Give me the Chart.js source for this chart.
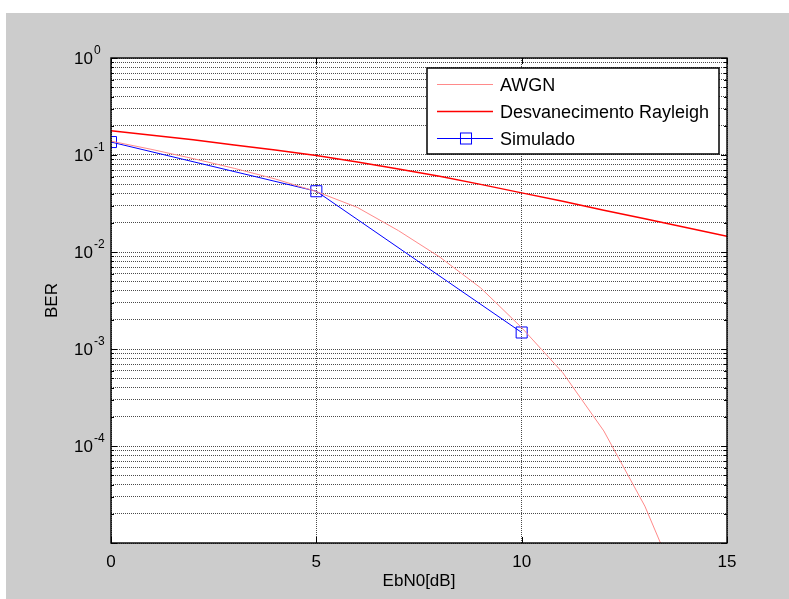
<!DOCTYPE html>
<html>
<head>
<meta charset="utf-8">
<script src="https://cdn.jsdelivr.net/npm/chart.js@4.4.1/dist/chart.umd.min.js"></script>
<style>
  html, body { margin: 0; padding: 0; background: #fff; }
  canvas { display: block; }
</style>
</head>
<body>
<canvas id="ber" width="789" height="599"></canvas>
<script>
// values
const ebn0 = [0, 1, 2, 3, 4, 5, 6, 7, 8, 9, 10, 11, 12, 13, 14, 15];
const berAwgn = [0.139, 0.114, 0.0918, 0.0729, 0.0566, 0.0420, 0.0288, 0.0166, 0.0089, 0.00427,
                 0.00166, 5.7e-4, 1.43e-4, 2.4e-5, 2.4e-6, 1.6e-7];
const berRayleigh = [0.178, 0.160, 0.1435, 0.127, 0.1127, 0.0989, 0.0845, 0.0716, 0.0603, 0.0498,
                     0.0407, 0.0333, 0.0270, 0.0220, 0.0179, 0.0145];
const ebn0Sim = [0, 5, 10];
const berSim = [0.136, 0.0423, 0.00148];

const xTicks = [0, 5, 10, 15];
const yDecades = [1e-5, 1e-4, 1e-3, 1e-2, 1e-1, 1];
const yExponents = ['', '-4', '-3', '-2', '-1', '0']; // 10^-5 is not labelled

const FONT = '"Liberation Sans", Arial, Helvetica, sans-serif';

// all grid positions: 1..9 times each decade
const yGrid = [];
yDecades.forEach((d, i) => {
  if (i === yDecades.length - 1) { yGrid.push(d); return; }
  for (let m = 1; m < 10; m++) yGrid.push(+(m * d).toPrecision(3));
});

const toXY = (xs, ys) => xs.map((x, i) => ({ x: x, y: ys[i] }));

const matlabAxes = {
  id: 'matlabAxes',
  beforeDraw(chart) {
    const { ctx, chartArea: a } = chart;
    ctx.save();
    ctx.fillStyle = '#ffffff';
    ctx.fillRect(0, 0, chart.width, chart.height);
    ctx.fillStyle = '#cccccc';
    ctx.fillRect(6, 13, chart.width - 6, chart.height - 13);
    ctx.fillStyle = '#ffffff';
    ctx.fillRect(a.left, a.top, a.right - a.left, a.bottom - a.top);
    ctx.restore();
  },
  afterDraw(chart) {
    const { ctx, chartArea: a } = chart;
    const xs = chart.scales.x, ys = chart.scales.y;
    ctx.save();

    // inner tick marks
    ctx.strokeStyle = '#000';
    ctx.lineWidth = 1;
    ctx.beginPath();
    yGrid.forEach(v => {
      const py = Math.round(ys.getPixelForValue(v)) + 0.5;
      const len = yDecades.includes(v) ? 6 : 3;
      ctx.moveTo(a.left, py); ctx.lineTo(a.left + len, py);
      ctx.moveTo(a.right, py); ctx.lineTo(a.right - len, py);
    });
    xTicks.forEach(v => {
      const px = Math.round(xs.getPixelForValue(v)) + 0.5;
      ctx.moveTo(px, a.bottom); ctx.lineTo(px, a.bottom - 6);
      ctx.moveTo(px, a.top); ctx.lineTo(px, a.top + 6);
    });
    ctx.stroke();

    // axes box
    ctx.lineWidth = 1.4;
    ctx.strokeRect(a.left, a.top, a.right - a.left, a.bottom - a.top);

    // tick labels
    ctx.fillStyle = '#000';
    ctx.textBaseline = 'middle';
    yDecades.forEach((v, i) => {
      if (!yExponents[i]) return;
      const py = ys.getPixelForValue(v);
      ctx.font = '17px ' + FONT;
      ctx.textAlign = 'right';
      ctx.fillText('10', a.left - 18, py + 1);
      ctx.font = '12px ' + FONT;
      ctx.textAlign = 'left';
      ctx.fillText(yExponents[i], a.left - 17, py - 7);
    });
    ctx.font = '17px ' + FONT;
    ctx.textAlign = 'center';
    xTicks.forEach(v => {
      ctx.fillText(String(v), xs.getPixelForValue(v), a.bottom + 19);
    });

    // axis titles
    ctx.fillText('EbN0[dB]', (a.left + a.right) / 2, a.bottom + 38);
    ctx.save();
    ctx.translate(a.left - 59, (a.top + a.bottom) / 2);
    ctx.rotate(-Math.PI / 2);
    ctx.fillText('BER', 0, 0);
    ctx.restore();

    // legend box, top right inside the axes
    const lx = 427, ly = 68, lw = 292, lh = 86;
    ctx.fillStyle = '#fff';
    ctx.fillRect(lx, ly, lw, lh);
    ctx.strokeStyle = '#000';
    ctx.lineWidth = 1.5;
    ctx.strokeRect(lx, ly, lw, lh);
    ctx.font = '18px ' + FONT;
    ctx.textAlign = 'left';
    chart.data.datasets.forEach((ds, i) => {
      const ry = ly + 16.5 + i * 27;
      ctx.strokeStyle = ds.borderColor;
      ctx.lineWidth = ds.borderWidth;
      ctx.beginPath();
      ctx.moveTo(lx + 10, ry); ctx.lineTo(lx + 66, ry);
      ctx.stroke();
      if (ds.pointRadius > 0) {
        const s = ds.pointRadius * Math.SQRT1_2;
        ctx.lineWidth = 1;
        ctx.strokeRect(lx + 39 - s, ry - s, 2 * s, 2 * s);
      }
      ctx.fillStyle = '#000';
      ctx.fillText(ds.label, lx + 73, ry + 2);
    });
    ctx.restore();
  }
};

new Chart(document.getElementById('ber'), {
  type: 'line',
  data: {
    datasets: [
      {
        label: 'AWGN',
        data: toXY(ebn0, berAwgn),
        borderColor: '#ff8a8a',
        borderWidth: 1,
        pointRadius: 0,
        tension: 0
      },
      {
        label: 'Desvanecimento Rayleigh',
        data: toXY(ebn0, berRayleigh),
        borderColor: '#ff0000',
        borderWidth: 1.5,
        pointRadius: 0,
        tension: 0
      },
      {
        label: 'Simulado',
        data: toXY(ebn0Sim, berSim),
        borderColor: '#0000ff',
        backgroundColor: 'rgba(0,0,0,0)',
        borderWidth: 1,
        pointStyle: 'rect',
        pointRadius: 7.8,
        pointBorderWidth: 1,
        tension: 0
      }
    ]
  },
  options: {
    responsive: false,
    animation: false,
    layout: { padding: { left: 111, top: 58, right: 62, bottom: 56 } },
    scales: {
      x: {
        type: 'linear',
        min: 0,
        max: 15,
        afterBuildTicks: s => { s.ticks = xTicks.map(v => ({ value: v })); },
        ticks: { display: false },
        grid: { color: '#4a4a4a', lineWidth: 1, drawTicks: false },
        border: { display: false, dash: [1, 1] }
      },
      y: {
        type: 'logarithmic',
        min: 1e-5,
        max: 1,
        afterBuildTicks: s => { s.ticks = yGrid.map(v => ({ value: v })); },
        ticks: { display: false },
        grid: { color: '#4a4a4a', lineWidth: 1, drawTicks: false },
        border: { display: false, dash: [1, 1] }
      }
    },
    plugins: {
      legend: { display: false },
      tooltip: { enabled: false }
    }
  },
  plugins: [matlabAxes]
});
</script>
</body>
</html>
